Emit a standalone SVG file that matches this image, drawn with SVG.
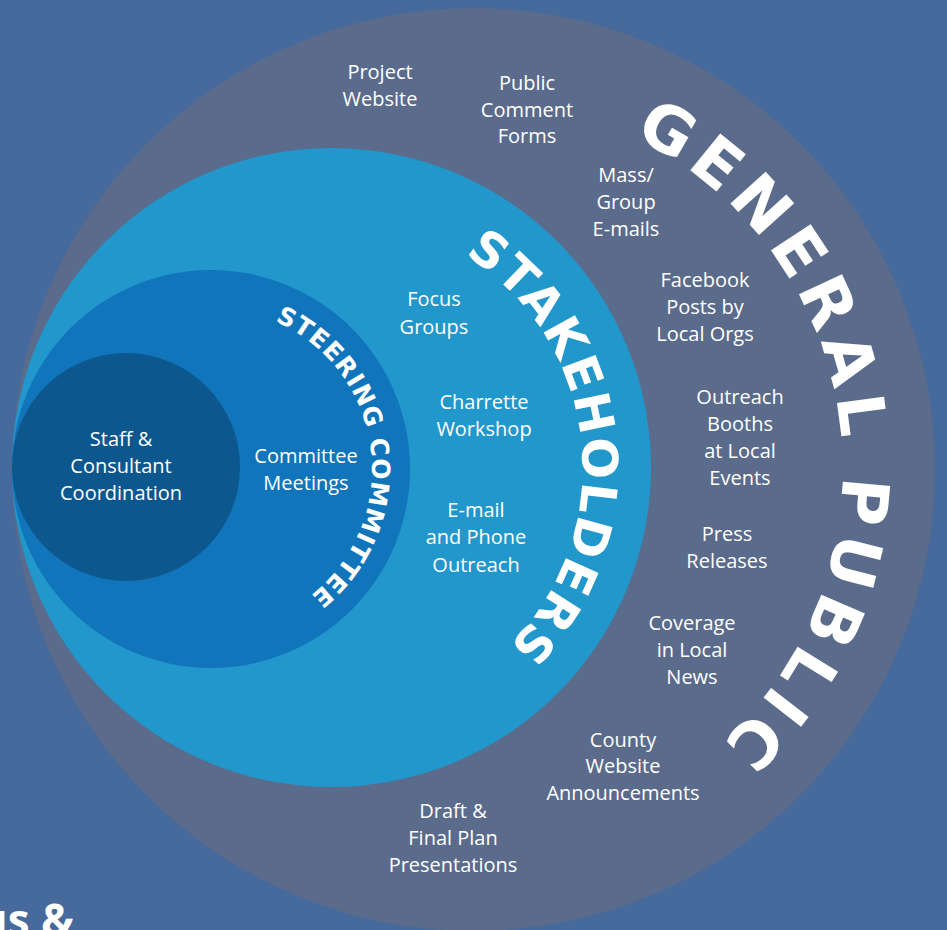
<svg xmlns="http://www.w3.org/2000/svg" width="947" height="930" viewBox="0 0 947 930">
<style>
.lbl{font-family:"Open Sans","Liberation Sans",sans-serif;font-size:20px;fill:#ffffff;text-anchor:middle}
.arc{font-family:"DejaVu Sans","Open Sans",sans-serif;font-weight:700;fill:#ffffff}
</style>
<defs>
<path id="pGP" d="M 473.5 838.5 A 369 369 0 1 1 473.5 100.5 A 369 369 0 1 1 473.5 838.5"/>
<path id="pST" d="M 331.5 718.5 A 251 251 0 1 1 331.5 216.5 A 251 251 0 1 1 331.5 718.5"/>
<path id="pSC" d="M 211 630 A 161 161 0 1 1 211 308 A 161 161 0 1 1 211 630"/>
</defs>
<rect x="0" y="0" width="947" height="930" fill="#476a9d"/>
<g id="general-public">
<circle cx="473.5" cy="469.5" r="461.5" fill="#5a6b8b"/>
<text class="arc" font-size="65" letter-spacing="7.5"><textPath href="#pGP" startOffset="1688" text-anchor="middle">GENERAL PUBLIC</textPath></text>
<text class="lbl" x="380" y="79">Project</text>
<text class="lbl" x="380" y="106">Website</text>
<text class="lbl" x="527" y="90">Public</text>
<text class="lbl" x="527" y="117">Comment</text>
<text class="lbl" x="527" y="143">Forms</text>
<text class="lbl" x="626" y="182">Mass/</text>
<text class="lbl" x="626" y="209">Group</text>
<text class="lbl" x="626" y="236">E-mails</text>
<text class="lbl" x="705" y="287">Facebook</text>
<text class="lbl" x="705" y="314">Posts by</text>
<text class="lbl" x="705" y="341">Local Orgs</text>
<text class="lbl" x="740" y="404">Outreach</text>
<text class="lbl" x="740" y="431">Booths</text>
<text class="lbl" x="740" y="458">at Local</text>
<text class="lbl" x="740" y="485">Events</text>
<text class="lbl" x="727" y="541">Press</text>
<text class="lbl" x="727" y="568">Releases</text>
<text class="lbl" x="692" y="630">Coverage</text>
<text class="lbl" x="692" y="657">in Local</text>
<text class="lbl" x="692" y="684">News</text>
<text class="lbl" x="623" y="747">County</text>
<text class="lbl" x="623" y="773">Website</text>
<text class="lbl" x="623" y="800">Announcements</text>
<text class="lbl" x="453" y="818">Draft &amp;</text>
<text class="lbl" x="453" y="845">Final Plan</text>
<text class="lbl" x="453" y="872">Presentations</text>
</g>
<g id="stakeholders">
<circle cx="331.5" cy="467.5" r="319.5" fill="#2297cc"/>
<text class="arc" font-size="49" letter-spacing="1.5"><textPath href="#pST" startOffset="1155" text-anchor="middle">STAKEHOLDERS</textPath></text>
<text class="lbl" x="434" y="306">Focus</text>
<text class="lbl" x="434" y="334">Groups</text>
<text class="lbl" x="484" y="409">Charrette</text>
<text class="lbl" x="484" y="436">Workshop</text>
<text class="lbl" x="476" y="517">E-mail</text>
<text class="lbl" x="476" y="544">and Phone</text>
<text class="lbl" x="476" y="572">Outreach</text>
</g>
<g id="steering-committee">
<circle cx="211" cy="469" r="199" fill="#1175bc"/>
<text class="arc" font-size="25" letter-spacing="1"><textPath href="#pSC" startOffset="738" text-anchor="middle">STEERING COMMITTEE</textPath></text>
<text class="lbl" x="306" y="463">Committee</text>
<text class="lbl" x="306" y="490">Meetings</text>
</g>
<g id="staff">
<circle cx="126" cy="467" r="114" fill="#0d578f"/>
<text class="lbl" x="121" y="446">Staff &amp;</text>
<text class="lbl" x="121" y="473">Consultant</text>
<text class="lbl" x="121" y="500">Coordination</text>
</g>
<g id="connectors"></g>
<text x="74" y="936" font-family="Open Sans, Liberation Sans, sans-serif" font-weight="700" font-size="44" fill="#ffffff" text-anchor="end">us &amp;</text>
</svg>
